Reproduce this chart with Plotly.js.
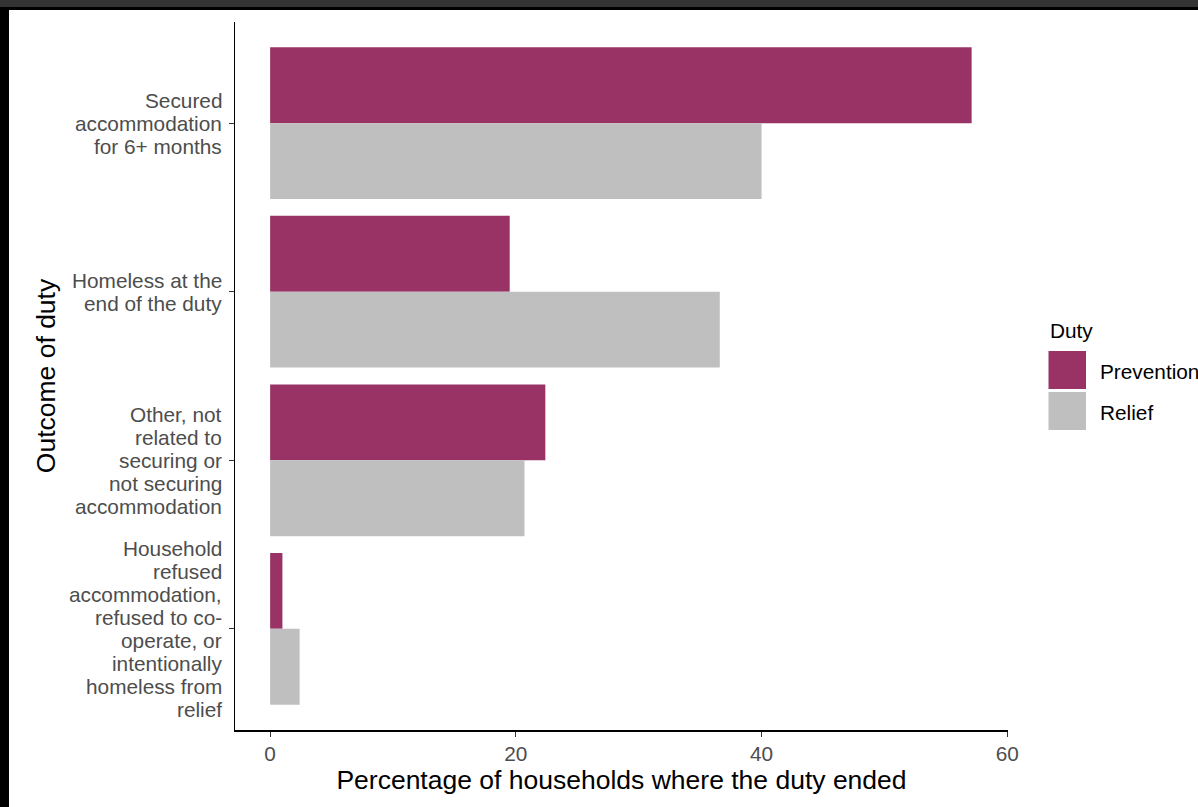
<!DOCTYPE html>
<html>
<head>
<meta charset="utf-8">
<script src="https://cdn.plot.ly/plotly-3.0.1.min.js"></script>
<style>
  html, body { margin: 0; padding: 0; background: #fff; }
  #wrap { position: relative; width: 1198px; height: 807px; overflow: hidden; }
  #chart { position: absolute; left: 0; top: 0; width: 1198px; height: 807px; }
  .topbar { position: absolute; left: 0; top: 0; width: 1198px; height: 7px; background: #333333; }
  .topline { position: absolute; left: 0; top: 7px; width: 1198px; height: 3px; background: #000; }
  .leftline { position: absolute; left: 0; top: 7px; width: 9px; height: 800px; background: #000; }
</style>
</head>
<body>
<div id="wrap">
  <div id="chart"></div>
  <div class="topbar"></div>
  <div class="topline"></div>
  <div class="leftline"></div>
</div>
<script>
// ---- data ----
const categories = [
  "Secured<br>accommodation<br>for 6+ months",
  "Homeless at the<br>end of the duty",
  "Other, not<br>related to<br>securing or<br>not securing<br>accommodation",
  "Household<br>refused<br>accommodation,<br>refused to co-<br>operate, or<br>intentionally<br>homeless from<br>relief"
];
const seriesNames = ["Prevention", "Relief"];
const prevention = [57.1, 19.5, 22.4, 1.0];
const relief = [40.0, 36.6, 20.7, 2.4];
const xTicks = [0, 20, 40, 60];
const colors = ["#993366", "#bfbfbf"];

// ---- layout helpers ----
const L = 235, R = 1008, T = 22, B = 730;
const px = x => (x - L) / (R - L);
const py = y => (B - y) / (B - T);
const font = "Liberation Sans, Arial, sans-serif";
const tickSize = 20.8, titleSize = 26.5, lineH = 23;

const traces = [prevention, relief].map((vals, i) => ({
  type: "bar",
  orientation: "h",
  name: seriesNames[i],
  x: vals,
  y: categories,
  marker: { color: colors[i], line: { width: 0 } },
  showlegend: false,
  hoverinfo: "x+name"
}));

const annotations = [];
// y tick labels, one line each with ggplot-like tight spacing
categories.forEach(cat => {
  const lines = cat.split("<br>");
  const n = lines.length;
  lines.forEach((ln, j) => {
    annotations.push({
      xref: "paper", yref: "y", x: px(224), y: cat,
      xanchor: "right", yanchor: "middle",
      yshift: ((n - 1) / 2 - j) * lineH,
      text: ln, showarrow: false,
      font: { family: font, size: tickSize, color: "#4d4d4d" }
    });
  });
});

// legend
const shapes = [];
annotations.push({
  xref: "paper", yref: "paper", x: px(1048), y: py(331), xanchor: "left", yanchor: "middle",
  text: "Duty", showarrow: false, font: { family: font, size: tickSize, color: "#000" }
});
seriesNames.forEach((n, i) => {
  const top = 351 + i * 41;
  shapes.push({
    type: "rect", xref: "paper", yref: "paper",
    x0: px(1048.5), x1: px(1086), y0: py(top + 38), y1: py(top),
    fillcolor: colors[i], line: { width: 0 }
  });
  annotations.push({
    xref: "paper", yref: "paper", x: px(1098), y: py(top + 20), xanchor: "left", yanchor: "middle",
    text: n, showarrow: false, font: { family: font, size: tickSize, color: "#000" }
  });
});

const layout = {
  width: 1198, height: 807,
  margin: { l: L, r: 1198 - R, t: T, b: 807 - B, pad: 0 },
  paper_bgcolor: "#fff", plot_bgcolor: "#fff",
  barmode: "group", bargap: 0.1, bargroupgap: 0,
  font: { family: font },
  xaxis: {
    range: [-2.86, 60.06],
    tickvals: xTicks, ticktext: xTicks.map(String),
    showgrid: false, zeroline: false,
    showline: true, linecolor: "#000", linewidth: 1.5,
    ticks: "outside", ticklen: 5, tickwidth: 1.2, tickcolor: "#333",
    tickfont: { family: font, size: tickSize, color: "#4d4d4d" },
    title: { text: "Percentage of households where the duty ended", font: { family: font, size: titleSize, color: "#000" }, standoff: 1 }
  },
  yaxis: {
    type: "category",
    categoryorder: "array", categoryarray: categories,
    range: [3.6, -0.6],
    showgrid: false, zeroline: false,
    showline: true, linecolor: "#000", linewidth: 1.5,
    ticks: "outside", ticklen: 5, tickwidth: 1.2, tickcolor: "#333",
    showticklabels: false,
    title: { text: "Outcome of duty", font: { family: font, size: titleSize, color: "#000" }, standoff: 165 }
  },
  shapes: shapes,
  annotations: annotations
};

Plotly.newPlot("chart", traces, layout, { displayModeBar: false, staticPlot: true });
</script>
</body>
</html>
